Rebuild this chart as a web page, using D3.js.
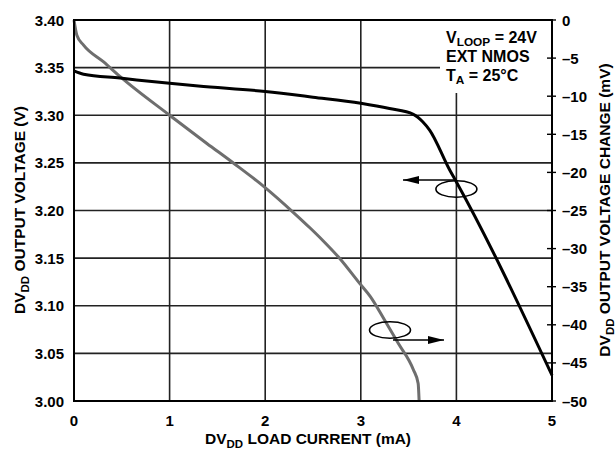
<!DOCTYPE html>
<html>
<head>
<meta charset="utf-8">
<script src="https://cdn.jsdelivr.net/npm/d3@7"></script>
<style>
  body { margin: 0; background: #fff; }
  svg text { font-family: "Liberation Sans", Arial, sans-serif; font-weight: bold; fill: #000; }
</style>
</head>
<body>
<svg width="616" height="452"></svg>
<script>
var svg = d3.select("svg");

// load current (mA) vs DVDD output voltage (V), left axis
var voltCurrent = [0, 0.1, 0.48, 1.0, 1.3, 2.0, 2.5, 3.0, 3.3, 3.55, 3.65, 3.72, 3.93, 4.0, 5.0];
var voltValues = [3.3465, 3.343, 3.339, 3.3335, 3.3307, 3.325, 3.319, 3.3125, 3.307, 3.301, 3.293, 3.2845, 3.2425, 3.23, 3.027];

// load current (mA) vs output voltage change (mV), right axis
var changeCurrent = [0, 0.03, 0.1, 0.31, 0.48, 1.0, 1.39, 1.67, 1.99, 2.29, 2.47, 2.6, 2.78, 2.99, 3.1, 3.25, 3.39, 3.55, 3.6, 3.61];
var changeValues = [0, -2.0, -3.3, -5.5, -7.4, -12.5, -16.2, -18.8, -21.9, -25.2, -27.3, -28.9, -31.3, -34.6, -36.3, -39.4, -42.4, -45.9, -47.7, -50];

var xTicks = [0, 1, 2, 3, 4, 5];
var leftTicks = [3.00, 3.05, 3.10, 3.15, 3.20, 3.25, 3.30, 3.35, 3.40];
var rightTicks = [0, -5, -10, -15, -20, -25, -30, -35, -40, -45, -50];

var plotL = 74, plotR = 552, plotT = 20, plotB = 401;

var x = d3.scaleLinear().domain([0, 5]).range([plotL, plotR]);
var yLeft = d3.scaleLinear().domain([3.0, 3.4]).range([plotB, plotT]);
var yRight = d3.scaleLinear().domain([-50, 0]).range([plotB, plotT]);

var fmtMinus = function(d) { return d < 0 ? "\u2013" + Math.abs(d) : String(d); };

// grid
var grid = svg.append("g").attr("stroke", "#222").attr("stroke-width", 1.6);
xTicks.slice(1, -1).forEach(function(t) {
  grid.append("line").attr("x1", x(t)).attr("x2", x(t)).attr("y1", plotT).attr("y2", plotB);
});
leftTicks.slice(1, -1).forEach(function(t) {
  grid.append("line").attr("x1", plotL).attr("x2", plotR).attr("y1", yLeft(t)).attr("y2", yLeft(t));
});

// white panel behind the conditions text
svg.append("rect").attr("x", 440).attr("y", plotT).attr("width", plotR - 440).attr("height", 73).attr("fill", "#fff");

// right axis short ticks
rightTicks.forEach(function(t) {
  svg.append("line").attr("x1", plotR - 5).attr("x2", plotR + 4)
     .attr("y1", yRight(t)).attr("y2", yRight(t))
     .attr("stroke", "#000").attr("stroke-width", 1.4);
});

// curves
var lineLeft = d3.line().x(function(d) { return x(d[0]); }).y(function(d) { return yLeft(d[1]); }).curve(d3.curveMonotoneX);
var lineRight = d3.line().x(function(d) { return x(d[0]); }).y(function(d) { return yRight(d[1]); }).curve(d3.curveMonotoneX);

svg.append("path")
   .attr("d", lineRight(d3.zip(changeCurrent, changeValues)))
   .attr("fill", "none").attr("stroke", "#6e6e6e").attr("stroke-width", 3);

svg.append("path")
   .attr("d", lineLeft(d3.zip(voltCurrent, voltValues)))
   .attr("fill", "none").attr("stroke", "#000").attr("stroke-width", 3);

// frame
svg.append("rect").attr("x", plotL).attr("y", plotT).attr("width", plotR - plotL).attr("height", plotB - plotT)
   .attr("fill", "none").attr("stroke", "#000").attr("stroke-width", 2);

// tick labels
xTicks.forEach(function(t) {
  svg.append("text").attr("x", x(t)).attr("y", 426).attr("text-anchor", "middle")
     .attr("font-size", 15).text(t);
});
leftTicks.forEach(function(t) {
  svg.append("text").attr("x", plotL - 10).attr("y", yLeft(t) + 5.5).attr("text-anchor", "end")
     .attr("font-size", 15).text(t.toFixed(2));
});
rightTicks.forEach(function(t) {
  svg.append("text").attr("x", plotR + 10).attr("y", yRight(t) + 5.5)
     .attr("font-size", 15).text(fmtMinus(t));
});

// text with a subscript part
function subTitle(g, before, sub, after, size, shift) {
  var t = g.append("text").attr("font-size", size);
  t.append("tspan").text(before);
  t.append("tspan").attr("font-size", size * 0.74).attr("dy", shift).text(sub);
  t.append("tspan").attr("dy", -shift).text(after);
  return t;
}

subTitle(svg.append("g").attr("transform", "translate(308,444)"), "DV", "DD", " LOAD CURRENT (mA)", 15.5, 4)
  .attr("text-anchor", "middle");
subTitle(svg.append("g").attr("transform", "translate(25,210) rotate(-90)"), "DV", "DD", " OUTPUT VOLTAGE (V)", 15.5, 4)
  .attr("text-anchor", "middle");
subTitle(svg.append("g").attr("transform", "translate(610,210) rotate(-90)"), "DV", "DD", " OUTPUT VOLTAGE CHANGE (mV)", 15.5, 4)
  .attr("text-anchor", "middle");

// conditions
subTitle(svg.append("g").attr("transform", "translate(446,43)"), "V", "LOOP", " = 24V", 16, 2.5);
svg.append("text").attr("x", 446).attr("y", 62).attr("font-size", 16).text("EXT NMOS");
subTitle(svg.append("g").attr("transform", "translate(446,81)"), "T", "A", " = 25\u00B0C", 16, 3);

// curve callouts: ellipse + arrow pointing to the matching axis
svg.append("defs").append("marker")
   .attr("id", "head").attr("viewBox", "0 0 16 8").attr("refX", 16).attr("refY", 4)
   .attr("markerWidth", 16).attr("markerHeight", 8).attr("markerUnits", "userSpaceOnUse")
   .attr("orient", "auto")
   .append("path").attr("d", "M0,0 L16,4 L0,8 Z").attr("fill", "#000");

function callout(cx, cy, x1, x2, ay) {
  svg.append("ellipse").attr("cx", cx).attr("cy", cy).attr("rx", 20.5).attr("ry", 8.3)
     .attr("fill", "none").attr("stroke", "#000").attr("stroke-width", 1.6);
  svg.append("line").attr("x1", x1).attr("x2", x2).attr("y1", ay).attr("y2", ay)
     .attr("stroke", "#000").attr("stroke-width", 1.6).attr("marker-end", "url(#head)");
}
callout(x(4.0), 189, x(4.0), 403, 180);
callout(390, 330, 393, 444, 340);
</script>
</body>
</html>
